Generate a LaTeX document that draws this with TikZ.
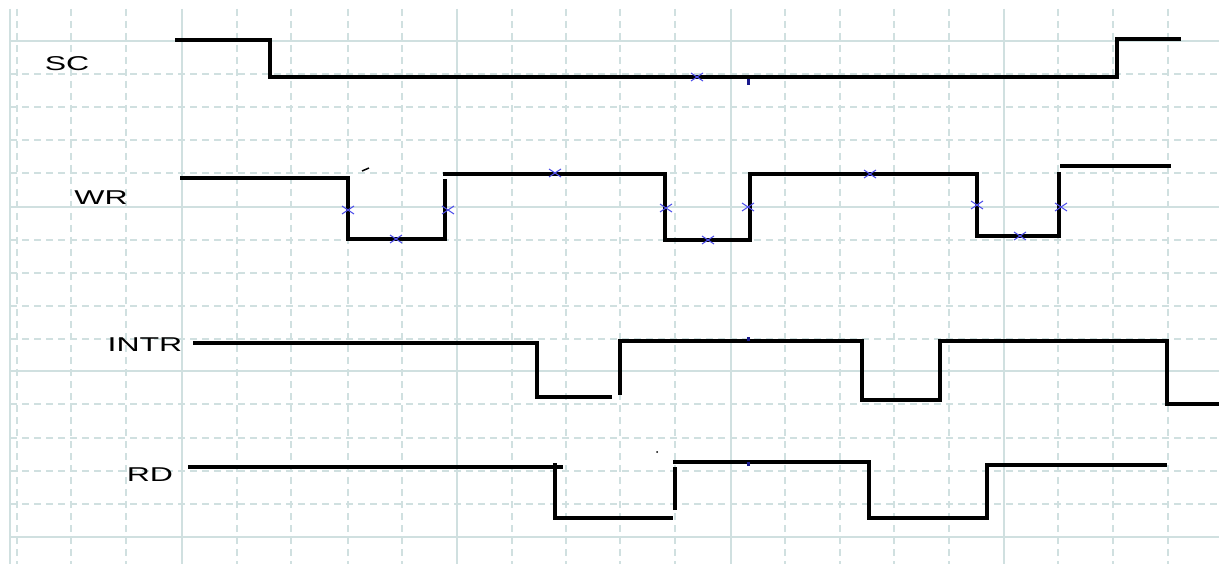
\documentclass[tikz,border=0pt]{standalone}
\usepackage{fontspec}
\setmainfont{Liberation Sans}
\usetikzlibrary{shapes.misc}
\definecolor{gridc}{RGB}{208,224,224}
\definecolor{mkblue}{RGB}{80,80,235}
\definecolor{tickblue}{RGB}{25,25,140}
\tikzset{
  wave/.style={line width=3.2pt, line join=miter},
  lbl/.style={font=\fontsize{20}{24}\selectfont, xscale=1.6, inner sep=0pt},
  mk/.style={cross out, draw=mkblue, line width=1pt, minimum width=11pt, minimum height=7pt, inner sep=0pt},
  gsolid/.style={gridc, line width=1.6pt},
  gdash/.style={gridc, line width=1.3pt, dash pattern=on 7pt off 5pt},
}
\begin{document}
\begin{tikzpicture}[x=1pt, y=-1pt]
\useasboundingbox (0,0) rectangle (1219,564);
\fill[white] (0,0) rectangle (1219,564);
% grid
\draw[gridc, line width=2.5pt] (10,9) -- (10,564);
\foreach \gx in {17,71,126,237,291,348,402,512,566,620,675,785,840,894,949,1058,1113,1168}
  \draw[gdash] (\gx,9) -- (\gx,564);
\foreach \gx in {182,457,731,1004}
  \draw[gsolid] (\gx,9) -- (\gx,564);
\foreach \gy in {74,107,140,173,240,273,306,339,404,438,471,504}
  \draw[gdash] (10,\gy) -- (1219,\gy);
\foreach \gy in {41,207,371,537}
  \draw[gsolid] (10,\gy) -- (1219,\gy);
% labels
\node[lbl] (sc) at (67,64) {SC};
\node[lbl] (wr) at (101,198) {WR};
\node[lbl] (intr) at (145,345) {INTR};
\node[lbl] (rd) at (150,475) {RD};
% SC
\draw[wave] (175,40) -- (270,40) -- (270,77) -- (1117,77) -- (1117,39) -- (1181,39);
% WR
\draw[wave] (180,178) -- (348,178) -- (348,239) -- (445,239) -- (445,179);
\draw[wave] (443,174) -- (665,174) -- (665,240) -- (750,240) -- (750,174) -- (977,174)
  -- (977,236) -- (1059,236) -- (1059,172);
\draw[wave] (1060,166) -- (1171,166);
% INTR
\draw[wave] (193,343) -- (537,343) -- (537,397) -- (612,397);
\draw[wave] (620,395) -- (620,341) -- (862,341) -- (862,400) -- (940,400) -- (940,341)
  -- (1167,341) -- (1167,404) -- (1219,404);
% RD
\draw[wave] (188,467) -- (563,467);
\draw[wave] (555,463) -- (555,518) -- (673,518);
\draw[wave] (675,510) -- (675,467);
\draw[wave] (673,462) -- (869,462) -- (869,518) -- (987,518) -- (987,465) -- (1167,465);
% marks
\node[mk] (m0) at (697,77){};
\node[mk] (m1) at (348,210){};
\node[mk] (m2) at (396,239){};
\node[mk] (m3) at (448,210){};
\node[mk] (m4) at (555,173){};
\node[mk] (m5) at (666,208){};
\node[mk] (m6) at (708,240){};
\node[mk] (m7) at (748,207){};
\node[mk] (m8) at (870,174){};
\node[mk] (m9) at (977,205){};
\node[mk] (m10) at (1020,236){};
\node[mk] (m11) at (1061,207){};
\fill[tickblue] (747,79) rectangle (750,85);
\fill[tickblue] (747,337) rectangle (750,341);
\fill[tickblue] (747,462) rectangle (750,466);
\draw[line width=1.5pt] (362,171) -- (369,168);
\fill (657,452) circle (1pt);
\end{tikzpicture}
\end{document}
